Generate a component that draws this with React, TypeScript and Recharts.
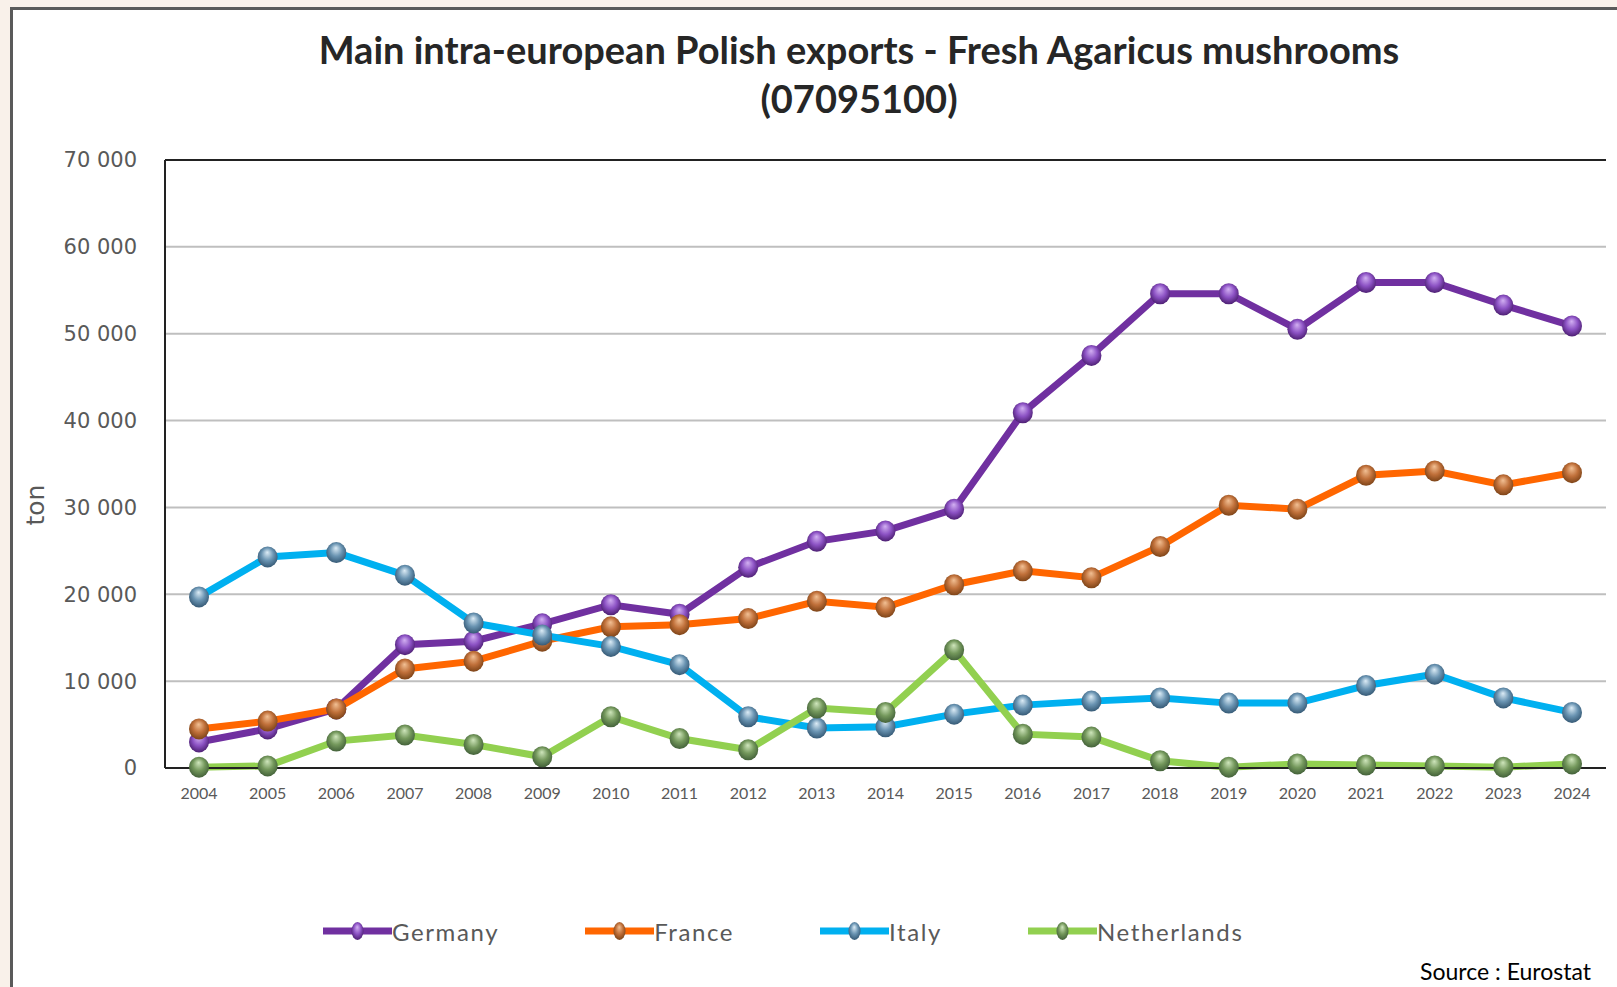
import React from 'react';
import { LineChart, Line, XAxis, YAxis, CartesianGrid, ReferenceLine } from 'recharts';

const years = ['2004', '2005', '2006', '2007', '2008', '2009', '2010', '2011', '2012', '2013', '2014',
  '2015', '2016', '2017', '2018', '2019', '2020', '2021', '2022', '2023', '2024'];

const germany = [3000, 4500, 6800, 14200, 14600, 16600, 18800, 17700, 23100, 26100, 27300,
  29800, 40900, 47500, 54600, 54600, 50500, 55900, 55900, 53300, 50900];
const france = [4500, 5400, 6800, 11400, 12300, 14600, 16250, 16500, 17200, 19200, 18500,
  21100, 22700, 21900, 25500, 30250, 29800, 33700, 34200, 32600, 34000];
const italy = [19700, 24300, 24800, 22200, 16700, 15300, 14000, 11900, 5900, 4600, 4750,
  6200, 7240, 7700, 8070, 7470, 7470, 9500, 10800, 8070, 6400];
const netherlands = [100, 240, 3100, 3800, 2700, 1300, 5900, 3400, 2100, 6900, 6400,
  13600, 3900, 3560, 830, 100, 470, 350, 240, 100, 470];

const yTicks = [0, 10000, 20000, 30000, 40000, 50000, 60000, 70000];

const series = [
  { key: 'Germany', color: '#7030a0', hi: '#d2b0f2', body: '#8c52c4', rim: '#4e2074' },
  { key: 'France', color: '#ff6600', hi: '#f2c094', body: '#c0703a', rim: '#7e4418' },
  { key: 'Italy', color: '#00b0f0', hi: '#dcecf6', body: '#6a94b2', rim: '#365a76' },
  { key: 'Netherlands', color: '#92d050', hi: '#cfe6bc', body: '#74985c', rim: '#44623a' },
];

const data = years.map((year, i) => ({
  year,
  Germany: germany[i],
  France: france[i],
  Italy: italy[i],
  Netherlands: netherlands[i],
}));

const fmt = (v: number) => String(v).replace(/\B(?=(\d{3})+(?!\d))/g, ' ');

const Gradients = () => (
  <defs>
    {series.map((s) => (
      <radialGradient key={s.key} id={`g${s.key}`} cx="50%" cy="45%" r="55%" fx="48%" fy="28%">
        <stop offset="0%" stopColor={s.hi} />
        <stop offset="55%" stopColor={s.body} />
        <stop offset="100%" stopColor={s.rim} />
      </radialGradient>
    ))}
  </defs>
);

const makeDot = (name: string) => (props: any) => {
  const { cx, cy, index } = props;
  if (cx == null || cy == null) return <g key={index} />;
  return <ellipse key={index} cx={cx} cy={cy} rx={10} ry={10.5} fill={`url(#g${name})`} />;
};

const LegendRow = () => (
  <div
    style={{
      position: 'absolute',
      left: 323,
      top: 915,
      display: 'flex',
      gap: 86,
      alignItems: 'center',
      fontFamily: 'Lato, sans-serif',
      fontSize: 24,
      color: '#595959',
      letterSpacing: 1.6,
    }}
  >
    {series.map((s) => (
      <div key={s.key} style={{ display: 'flex', alignItems: 'center', height: 32 }}>
        <svg width={69} height={24}>
          <defs>
            <radialGradient id={`lg${s.key}`} cx="50%" cy="45%" r="55%" fx="48%" fy="28%">
              <stop offset="0%" stopColor={s.hi} />
              <stop offset="55%" stopColor={s.body} />
              <stop offset="100%" stopColor={s.rim} />
            </radialGradient>
          </defs>
          <line x1={0} x2={69} y1={12} y2={12} stroke={s.color} strokeWidth={7} strokeLinecap="round" />
          <ellipse cx={34.5} cy={12} rx={6} ry={9} fill={`url(#lg${s.key})`} />
        </svg>
        <span>{s.key}</span>
      </div>
    ))}
  </div>
);

export default function App() {
  return (
    <div
      style={{
        position: 'absolute',
        left: 0,
        top: 0,
        width: 1617,
        height: 987,
        overflow: 'hidden',
        background: '#f9f1ea',
      }}
    >
      <div
        style={{
          position: 'absolute',
          left: 10,
          top: 7,
          width: 1640,
          height: 1020,
          border: '3px solid #5a5a5a',
          background: '#ffffff',
        }}
      />
      <div
        style={{
          position: 'absolute',
          left: 859,
          top: 25,
          transform: 'translateX(-50%)',
          whiteSpace: 'nowrap',
          textAlign: 'center',
          fontFamily: 'Lato, sans-serif',
          fontWeight: 700,
          fontSize: 38,
          lineHeight: '49px',
          color: '#262626',
        }}
      >
        Main intra-european Polish exports - Fresh Agaricus mushrooms
        <br />
        (07095100)
      </div>
      <div
        style={{
          position: 'absolute',
          left: 36,
          top: 505,
          transform: 'translate(-50%, -50%) rotate(-90deg)',
          fontFamily: '"DejaVu Sans", sans-serif',
          fontSize: 25,
          color: '#595959',
          lineHeight: '28px',
        }}
      >
        ton
      </div>
      <div style={{ position: 'absolute', left: 0, top: 0 }}>
        <LineChart width={1617} height={987} data={data} margin={{ top: 160, right: 11, bottom: 179, left: 0 }}>
          <Gradients />
          <CartesianGrid vertical={false} stroke="#bfbfbf" strokeWidth={2} />
          <XAxis
            dataKey="year"
            height={40}
            padding={{ left: 34, right: 34 }}
            axisLine={{ stroke: '#222', strokeWidth: 2 }}
            tickLine={false}
            tickMargin={14}
            tick={{ fontFamily: 'Lato, sans-serif', fontSize: 16, fill: '#595959' }}
            interval={0}
          />
          <YAxis
            width={165}
            domain={[0, 70000]}
            ticks={yTicks}
            tickFormatter={fmt}
            axisLine={{ stroke: '#222', strokeWidth: 2 }}
            tickLine={false}
            tickMargin={22}
            tick={{ fontFamily: '"DejaVu Sans", sans-serif', fontSize: 21, fill: '#595959' }}
          />
          <YAxis
            yAxisId="right"
            orientation="right"
            width={0}
            domain={[0, 70000]}
            tick={false}
            tickLine={false}
            axisLine={{ stroke: '#222', strokeWidth: 2 }}
          />
          <ReferenceLine y={70000} stroke="#222" strokeWidth={2} />
          {series.map((s) => (
            <Line
              key={s.key}
              type="linear"
              dataKey={s.key}
              stroke={s.color}
              strokeWidth={7}
              dot={makeDot(s.key)}
              activeDot={false}
              isAnimationActive={false}
            />
          ))}
        </LineChart>
      </div>
      <LegendRow />
      <div
        style={{
          position: 'absolute',
          right: 1617 - 1591,
          top: 958,
          fontFamily: 'Lato, sans-serif',
          fontSize: 23,
          lineHeight: '26px',
          color: '#000',
        }}
      >
        Source : Eurostat
      </div>
    </div>
  );
}
